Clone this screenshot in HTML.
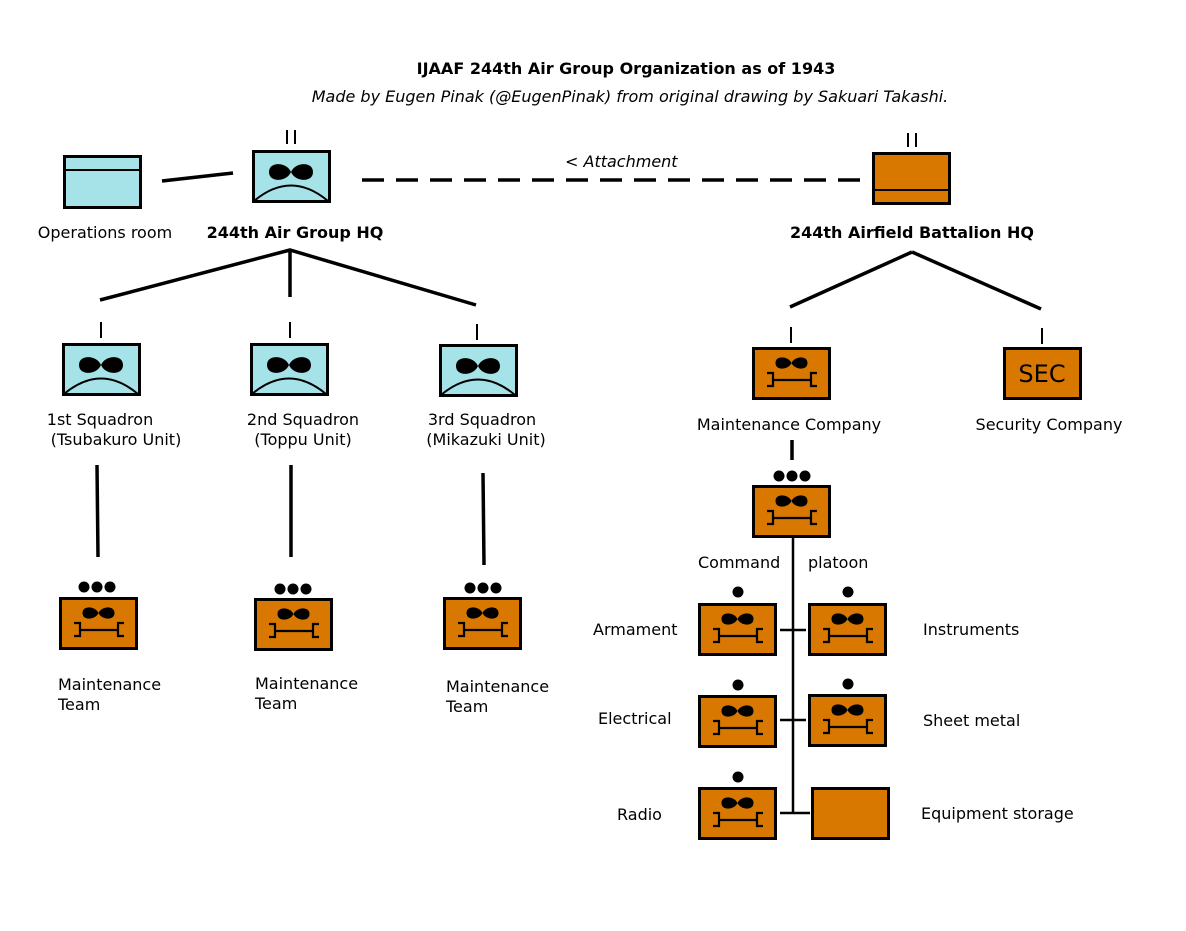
<!DOCTYPE html>
<html><head><meta charset="utf-8"><style>
html,body{margin:0;padding:0;background:#fff;}
svg text{font-family:"DejaVu Sans","Liberation Sans",sans-serif;font-size:16px;fill:#000;}
</style></head><body>
<svg width="1186" height="926" viewBox="0 0 1186 926" xmlns="http://www.w3.org/2000/svg">
<defs>
  <g id="bow">
    <path d="M0,0 C-3,-7 -16,-8 -16,0 C-16,8 -3,7 0,0 C3,-7 16,-8 16,0 C16,8 3,7 0,0 Z" fill="#000"/>
  </g>
  <g id="bowL">
    <path d="M0,0 C-4,-10 -22,-11 -22,0 C-22,11 -4,10 0,0 C4,-10 22,-11 22,0 C22,11 4,10 0,0 Z" fill="#000"/>
  </g>
  <g id="maint">
    <rect x="1.5" y="1.5" width="76" height="50" fill="#d97800" stroke="#000" stroke-width="3"/>
    <use href="#bow" x="39.5" y="16"/>
    <path d="M15,26 H21 V39 H15 M65,26 H59 V39 H65 M21,33 H59" fill="none" stroke="#000" stroke-width="2.2"/>
  </g>
  <g id="sq">
    <rect x="1.5" y="1.5" width="76" height="50" fill="#a6e3e8" stroke="#000" stroke-width="3"/>
    <use href="#bowL" x="39" y="22"/>
    <path d="M2,51 Q39,20 76,51" fill="none" stroke="#000" stroke-width="2"/>
  </g>
  <g id="d1"><circle cx="0" cy="0" r="5.5" fill="#000"/></g>
  <g id="d3"><circle cx="-13" cy="0" r="5.5"/><circle cx="0" cy="0" r="5.5"/><circle cx="13" cy="0" r="5.5"/></g>
</defs>

<text x="626" y="74" text-anchor="middle" style="font-weight:bold">IJAAF 244th Air Group Organization as of 1943</text>
<text x="630" y="102" text-anchor="middle" style="font-style:italic">Made by Eugen Pinak (@EugenPinak) from original drawing by Sakuari Takashi.</text>

<rect x="64.5" y="156.5" width="76" height="51" fill="#a6e3e8" stroke="#000" stroke-width="3"/>
<line x1="64" y1="170" x2="141" y2="170" stroke="#000" stroke-width="2"/>
<line x1="162" y1="181" x2="233" y2="173" stroke="#000" stroke-width="3.5"/>
<text x="105" y="238" text-anchor="middle">Operations room</text>

<line x1="287" y1="130" x2="287" y2="144" stroke="#000" stroke-width="2"/>
<line x1="295" y1="130" x2="295" y2="144" stroke="#000" stroke-width="2"/>
<use href="#sq" x="252" y="150"/>
<text x="295" y="238" text-anchor="middle" style="font-weight:bold">244th Air Group HQ</text>

<line x1="362" y1="180" x2="862" y2="180" stroke="#000" stroke-width="3.5" stroke-dasharray="22,12"/>
<text x="565" y="167" style="font-style:italic">&lt; Attachment</text>

<line x1="908" y1="133" x2="908" y2="147" stroke="#000" stroke-width="2"/>
<line x1="916" y1="133" x2="916" y2="147" stroke="#000" stroke-width="2"/>
<rect x="873.5" y="153.5" width="76" height="50" fill="#d97800" stroke="#000" stroke-width="3"/>
<line x1="873" y1="190" x2="950" y2="190" stroke="#000" stroke-width="2"/>
<text x="912" y="238" text-anchor="middle" style="font-weight:bold">244th Airfield Battalion HQ</text>

<g stroke="#000" stroke-width="3.5" fill="none">
<path d="M100,300 L290,250 L476,305 M290,250 V297"/>
<path d="M912,252 L790,307 M912,252 L1041,309"/>
<path d="M97,465 L98,557 M291,465 L291,557 M483,473 L484,565"/>
<path d="M792,440 V460"/>
</g>
<g stroke="#000" stroke-width="2">
<line x1="101" y1="322" x2="101" y2="338"/>
<line x1="290" y1="322" x2="290" y2="338"/>
<line x1="477" y1="324" x2="477" y2="340"/>
<line x1="791" y1="327" x2="791" y2="343"/>
<line x1="1042" y1="328" x2="1042" y2="344"/>
</g>

<use href="#sq" x="62" y="343"/>
<use href="#sq" x="250" y="343"/>
<use href="#sq" x="439" y="344"/>
<text x="100" y="425" text-anchor="middle">1st Squadron</text>
<text x="116" y="445" text-anchor="middle">(Tsubakuro Unit)</text>
<text x="303" y="425" text-anchor="middle">2nd Squadron</text>
<text x="303" y="445" text-anchor="middle">(Toppu Unit)</text>
<text x="482" y="425" text-anchor="middle">3rd Squadron</text>
<text x="486" y="445" text-anchor="middle">(Mikazuki Unit)</text>

<use href="#d3" x="97" y="587"/>
<use href="#maint" x="59" y="597"/>
<use href="#d3" x="293" y="589"/>
<use href="#maint" x="254" y="598"/>
<use href="#d3" x="483" y="588"/>
<use href="#maint" x="443" y="597"/>
<text x="58" y="690">Maintenance</text><text x="58" y="710">Team</text>
<text x="255" y="689">Maintenance</text><text x="255" y="709">Team</text>
<text x="446" y="692">Maintenance</text><text x="446" y="712">Team</text>

<use href="#maint" x="752" y="347"/>
<text x="789" y="430" text-anchor="middle">Maintenance Company</text>
<rect x="1004.5" y="348.5" width="76" height="50" fill="#d97800" stroke="#000" stroke-width="3"/>
<text x="1042" y="382" text-anchor="middle" style="font-size:24px">SEC</text>
<text x="1049" y="430" text-anchor="middle">Security Company</text>

<use href="#d3" x="792" y="476"/>
<use href="#maint" x="752" y="485"/>
<line x1="793" y1="537" x2="793" y2="813" stroke="#000" stroke-width="2.5"/>
<text x="698" y="568">Command</text>
<text x="808" y="568">platoon</text>

<g stroke="#000" stroke-width="2.5">
<line x1="780" y1="630" x2="806" y2="630"/>
<line x1="780" y1="720" x2="806" y2="720"/>
<line x1="780" y1="813" x2="810" y2="813"/>
</g>
<use href="#d1" x="738" y="592"/>
<use href="#maint" x="698" y="603"/>
<use href="#d1" x="848" y="592"/>
<use href="#maint" x="808" y="603"/>
<use href="#d1" x="738" y="685"/>
<use href="#maint" x="698" y="695"/>
<use href="#d1" x="848" y="684"/>
<use href="#maint" x="808" y="694"/>
<use href="#d1" x="738" y="777"/>
<use href="#maint" x="698" y="787"/>
<rect x="812.5" y="788.5" width="76" height="50" fill="#d97800" stroke="#000" stroke-width="3"/>

<text x="593" y="635">Armament</text>
<text x="923" y="635">Instruments</text>
<text x="598" y="724">Electrical</text>
<text x="923" y="726">Sheet metal</text>
<text x="617" y="820">Radio</text>
<text x="921" y="819">Equipment storage</text>
</svg>
</body></html>
